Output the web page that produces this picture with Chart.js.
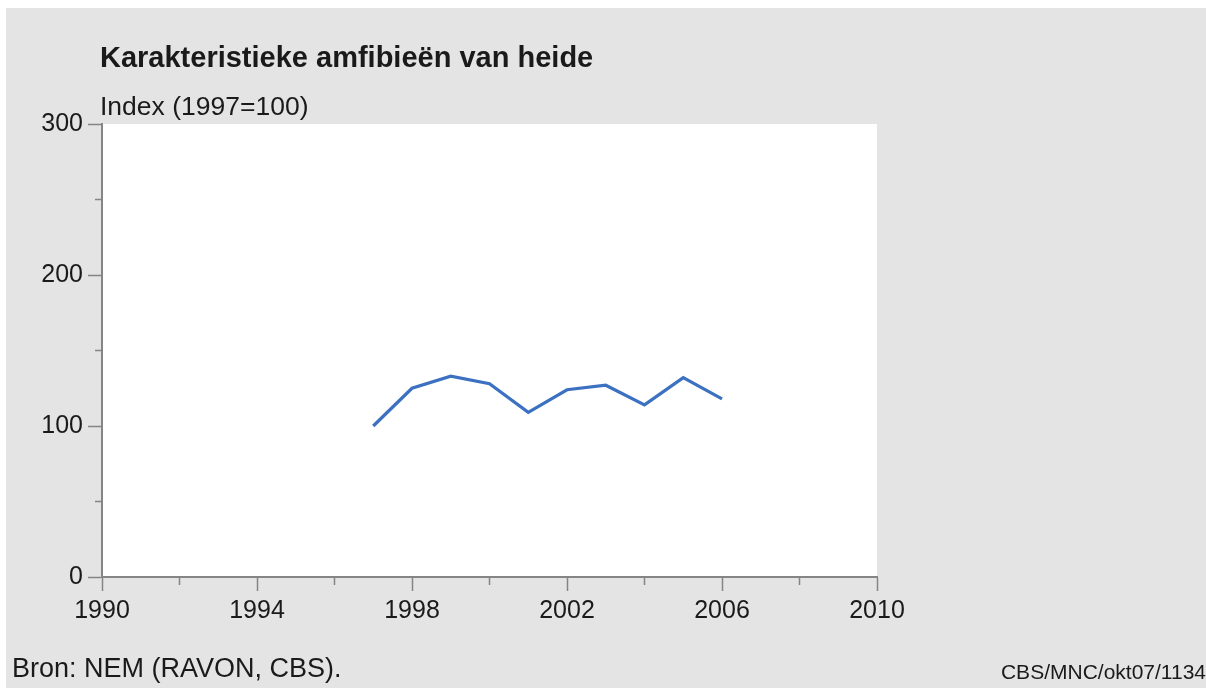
<!DOCTYPE html>
<html>
<head>
<meta charset="utf-8">
<script src="https://cdn.jsdelivr.net/npm/chart.js@4.4.1/dist/chart.umd.min.js"></script>
<style>
  html, body { margin: 0; padding: 0; background: #ffffff; }
  body { width: 1206px; height: 688px; position: relative; overflow: hidden; font-family: "Liberation Sans", Arial, sans-serif; }
  #panel { position: absolute; left: 6px; top: 8px; right: 0; bottom: 0; background: #e4e4e4; }
  #wrap { position: absolute; left: 0; top: 0; width: 1206px; height: 688px; }
  .txt { position: absolute; white-space: nowrap; color: #1a1a1a; }
  #title { left: 100px; top: 43px; font-size: 29px; line-height: 29px; font-weight: bold; }
  #sub { left: 100px; top: 93px; font-size: 26.5px; line-height: 26px; }
  #bron { left: 12px; top: 655px; font-size: 27px; line-height: 26px; }
  #code { right: 0; top: 661px; font-size: 21px; line-height: 21px; }
</style>
</head>
<body>
<div id="panel"></div>
<div id="wrap"><canvas id="chart" width="1206" height="688"></canvas></div>
<div class="txt" id="title">Karakteristieke amfibieën van heide</div>
<div class="txt" id="sub">Index (1997=100)</div>
<div class="txt" id="bron">Bron: NEM (RAVON, CBS).</div>
<div class="txt" id="code">CBS/MNC/okt07/1134</div>
<script>
// gegevens
const years = [1997, 1998, 1999, 2000, 2001, 2002, 2003, 2004, 2005, 2006];
const indexValues = [100, 125, 133, 128, 109, 124, 127, 114, 132, 118];
const xTickLabels = [1990, 1994, 1998, 2002, 2006, 2010];
const yTickLabels = [0, 100, 200, 300];

const axisColor = '#858585';

// witte achtergrond van het plotvlak
const plotBg = {
    id: 'plotBg',
    beforeDraw(chart) {
        const a = chart.chartArea;
        const ctx = chart.ctx;
        ctx.save();
        ctx.fillStyle = '#ffffff';
        ctx.fillRect(a.left, a.top, a.right - a.left, a.bottom - a.top);
        ctx.restore();
    }
};

const chart = new Chart(document.getElementById('chart'), {
    type: 'line',
    data: {
        datasets: [{
            data: years.map((y, i) => ({ x: y, y: indexValues[i] })),
            borderColor: '#3c71c1',
            borderWidth: 3.2,
            pointRadius: 0,
            tension: 0,
            fill: false
        }]
    },
    options: {
        responsive: false,
        animation: false,
        layout: { padding: { top: 124, right: 329, left: 0, bottom: 0 } },
        plugins: { legend: { display: false }, tooltip: { enabled: false } },
        scales: {
            x: {
                type: 'linear',
                min: 1990,
                max: 2010,
                afterFit(s) { s.height = 111; },
                ticks: {
                    stepSize: 2,
                    autoSkip: false,
                    maxRotation: 0,
                    padding: 5,
                    color: '#1a1a1a',
                    font: { family: '"Liberation Sans", Arial, sans-serif', size: 25 },
                    callback: v => xTickLabels.includes(v) ? String(v) : ''
                },
                grid: {
                    drawOnChartArea: false,
                    drawTicks: true,
                    tickLength: 14,
                    color: axisColor,
                    tickWidth: 1.5,
                    tickBorderDash: ctx => xTickLabels.includes(ctx.tick.value) ? [] : [7, 20],
                    tickBorderDashOffset: 0
                },
                border: { color: axisColor, width: 2 }
            },
            y: {
                min: 0,
                max: 300,
                afterFit(s) { s.width = 102; },
                ticks: {
                    stepSize: 50,
                    autoSkip: false,
                    padding: 5,
                    color: '#1a1a1a',
                    font: { family: '"Liberation Sans", Arial, sans-serif', size: 25 },
                    callback: v => yTickLabels.includes(v) ? String(v) : ''
                },
                grid: {
                    drawOnChartArea: false,
                    drawTicks: true,
                    tickLength: 14,
                    color: axisColor,
                    tickWidth: 1.5,
                    tickBorderDash: ctx => yTickLabels.includes(ctx.tick.value) ? [] : [7, 7],
                    tickBorderDashOffset: ctx => yTickLabels.includes(ctx.tick.value) ? 0 : 7
                },
                border: { color: axisColor, width: 2 }
            }
        }
    },
    plugins: [plotBg]
});
</script>
</body>
</html>
